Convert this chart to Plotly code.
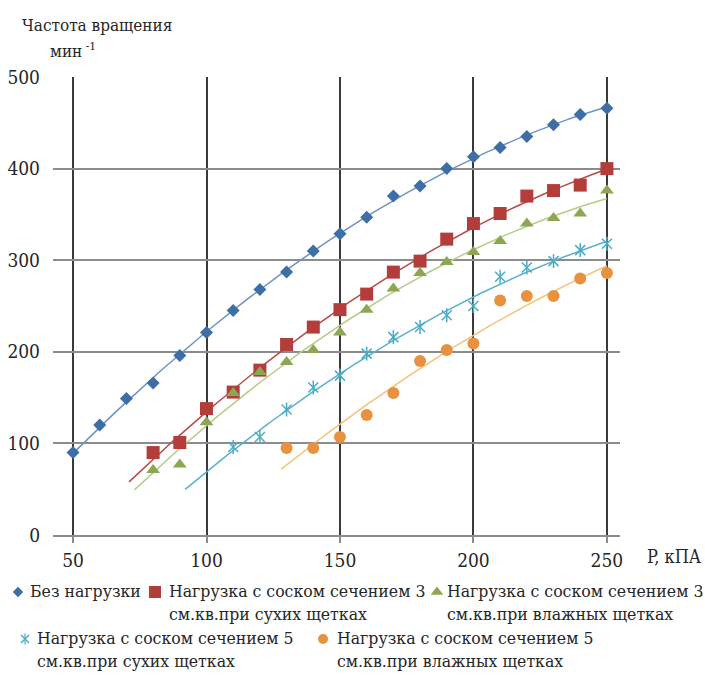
import numpy as np
import plotly.graph_objects as go

# Pressure, kPa
p_all = [50, 60, 70, 80, 90, 100, 110, 120, 130, 140, 150, 160, 170, 180, 190, 200, 210, 220, 230, 240, 250]
p_80 = p_all[3:]
p_110 = p_all[6:]
p_130 = p_all[8:]

# Rotation frequency, 1/min
no_load = [90, 120, 149, 166, 196, 221, 245, 268, 287, 310, 329, 347, 370, 381, 400, 413, 423, 435, 448, 459, 466]
nip3_dry = [90, 101, 138, 156, 180, 208, 227, 246, 263, 287, 299, 323, 340, 351, 370, 376, 382, 400]
nip3_wet = [71, 77, 123, 155, 178, 189, 202, 221, 246, 269, 286, 298, 309, 321, 340, 346, 351, 376]
nip5_dry = [96, 107, 137, 161, 174, 198, 216, 227, 240, 250, 282, 292, 299, 311, 318]
nip5_wet = [95, 95, 107, 131, 155, 190, 202, 209, 256, 261, 261, 280, 286]

names = [
    "Без нагрузки",
    "Нагрузка с соском сечением 3<br>см.кв.при сухих щетках",
    "Нагрузка с соском сечением 3<br>см.кв.при влажных щетках",
    "Нагрузка с соском сечением 5<br>см.кв.при сухих щетках",
    "Нагрузка с соском сечением 5<br>см.кв.при влажных щетках",
]
xs = [p_all, p_80, p_80, p_110, p_130]
ys = [no_load, nip3_dry, nip3_wet, nip5_dry, nip5_wet]
trend_from = [50, 71, 73, 92, 128]

marker_colors = ["#3E6EA6", "#B33D3A", "#8CA653", "#4BACC6", "#E8913F"]
trend_colors = ["#6F93C4", "#B84A47", "#B5CC85", "#5AAFD0", "#F5C27A"]
symbols = ["diamond", "square", "triangle-up", "x-thin-open", "circle"]
sizes = [10, 13, 12, 10, 12]

FONT = "DejaVu Serif Condensed, DejaVu Serif"
TXT = "#262626"
W, H = 705, 682
# plot area in pixels
PL, PR, PT, PB = 53, 620, 77, 535

fig = go.Figure()

# Second-order polynomial trend lines
for i in range(5):
    coef = np.polyfit(xs[i], ys[i], 2)
    xt = np.linspace(trend_from[i], 250, 120)
    fig.add_trace(go.Scatter(
        x=xt, y=np.polyval(coef, xt), mode="lines",
        line=dict(color=trend_colors[i], width=1.5),
        showlegend=False, hoverinfo="skip"))

# Measured points (the asterisk-like marker is an "x" plus a vertical stroke)
def marker_for(i, size):
    mk = dict(symbol=symbols[i], size=size, color=marker_colors[i])
    if symbols[i].endswith("open"):
        mk["line"] = dict(color=marker_colors[i], width=1.5)
    return mk

for i in range(5):
    fig.add_trace(go.Scatter(x=xs[i], y=ys[i], mode="markers", marker=marker_for(i, sizes[i]),
                             name=names[i].replace("<br>", " "), showlegend=False))
    if i == 3:
        fig.add_trace(go.Scatter(
            x=xs[i], y=ys[i], mode="markers", showlegend=False, hoverinfo="skip",
            marker=dict(symbol="line-ns-open", size=10, color=marker_colors[i],
                        line=dict(color=marker_colors[i], width=1.5))))

# Legend keys and texts on a full-figure overlay axis measured in pixels
key_x = [18, 155, 437, 25, 323]
key_y = [592, 592, 592, 639, 639]
text_x = [28, 167, 445, 35, 335]
key_sizes = [8, 12, 11, 8, 10]
for i in range(5):
    fig.add_trace(go.Scatter(x=[key_x[i]], y=[key_y[i]], xaxis="x2", yaxis="y2",
                             mode="markers", marker=marker_for(i, key_sizes[i]),
                             cliponaxis=False, showlegend=False, hoverinfo="skip"))
    if i == 3:
        fig.add_trace(go.Scatter(
            x=[key_x[i]], y=[key_y[i]], xaxis="x2", yaxis="y2", mode="markers",
            marker=dict(symbol="line-ns-open", size=8, color=marker_colors[i],
                        line=dict(color=marker_colors[i], width=1.2)),
            cliponaxis=False, showlegend=False, hoverinfo="skip"))
    fig.add_annotation(x=text_x[i], y=key_y[i] - 13, xref="x2", yref="y2",
                       text=names[i], showarrow=False, xanchor="left", yanchor="top",
                       align="left", font=dict(family=FONT, size=17.5, color=TXT))

fig.add_annotation(x=20, y=25, xref="x2", yref="y2", text="Частота вращения",
                   showarrow=False, xanchor="left", yanchor="middle",
                   font=dict(family=FONT, size=17, color=TXT))
fig.add_annotation(x=48, y=50, xref="x2", yref="y2", text="мин<sup> -1</sup>",
                   showarrow=False, xanchor="left", yanchor="middle",
                   font=dict(family=FONT, size=17, color=TXT))
fig.add_annotation(x=645, y=556, xref="x2", yref="y2", text="P, кПА",
                   showarrow=False, xanchor="left", yanchor="middle",
                   font=dict(family=FONT, size=18, color=TXT))

fig.update_layout(
    width=W, height=H,
    margin=dict(l=0, r=0, t=0, b=0, autoexpand=False),
    paper_bgcolor="white", plot_bgcolor="rgba(0,0,0,0)",
    font=dict(family=FONT, size=19, color=TXT),
    xaxis=dict(domain=[PL / W, PR / W], anchor="y",
               range=[42.5, 254.9], tickvals=[50, 100, 150, 200, 250],
               showgrid=True, gridcolor="#3a3a3a", gridwidth=1.5,
               zeroline=False, showline=True, linecolor="#8c8c8c", linewidth=1.5,
               ticks="outside", ticklen=6, tickcolor="#8c8c8c", tickwidth=1.5,
               ticklabelstandoff=1),
    yaxis=dict(domain=[(H - PB) / H, (H - PT) / H], anchor="x",
               range=[0, 500], tickvals=[0, 100, 200, 300, 400, 500],
               showgrid=True, gridcolor="#8c8c8c", gridwidth=1.5,
               zeroline=False, showline=False, ticks="", ticklabelstandoff=12),
    xaxis2=dict(domain=[0, 1], anchor="y2", range=[0, W], visible=False, fixedrange=True),
    yaxis2=dict(domain=[0, 1], anchor="x2", range=[H, 0], visible=False, fixedrange=True),
)

fig.write_html("out.html")
